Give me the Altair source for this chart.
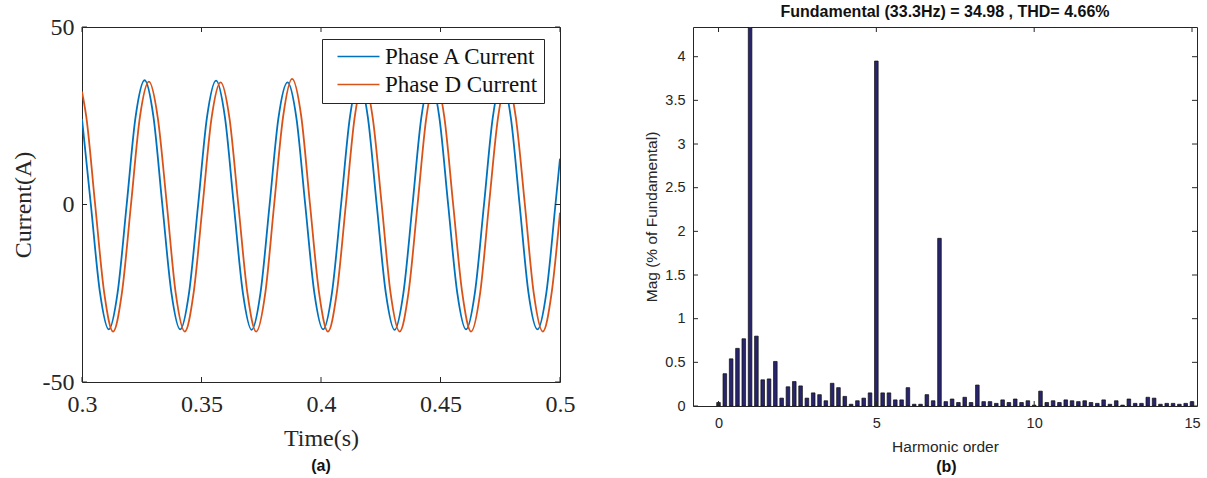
import altair as alt
import pandas as pd

# ---- phase currents (time in s, current in A), sampled every eighth of a cycle ----
t_phase_a = [0.3000, 0.3037, 0.3075, 0.3112, 0.3149, 0.3187, 0.3224, 0.3262, 0.3299, 0.3336,
             0.3374, 0.3411, 0.3448, 0.3486, 0.3523, 0.3561, 0.3598, 0.3635, 0.3673, 0.3710,
             0.3747, 0.3785, 0.3822, 0.3860, 0.3897, 0.3934, 0.3972, 0.4009, 0.4046, 0.4084,
             0.4121, 0.4159, 0.4196, 0.4233, 0.4271, 0.4308, 0.4345, 0.4383, 0.4420, 0.4457,
             0.4495, 0.4532, 0.4570, 0.4607, 0.4644, 0.4682, 0.4719, 0.4756, 0.4794, 0.4831,
             0.4868, 0.4906, 0.4943, 0.4981, 0.5000]
i_phase_a = [24.1, 0.0, -24.7, -35.2, -24.8, 0.0, 24.6, 35.0, 24.7, 0.0,
             -24.8, -35.2, -24.8, 0.0, 24.6, 34.9, 24.6, 0.0, -24.8, -35.3,
             -24.8, 0.0, 24.4, 34.4, 24.4, 0.0, -24.8, -35.2, -24.8, 0.0,
             24.6, 34.8, 24.6, 0.0, -24.8, -35.3, -24.8, 0.0, 24.6, 34.8,
             24.6, 0.0, -24.8, -35.2, -24.8, 0.0, 24.6, 34.8, 24.6, 0.0,
             -24.8, -35.2, -24.8, 0.0, 12.9]

t_phase_d = [0.3000, 0.3018, 0.3055, 0.3093, 0.3130, 0.3167, 0.3205, 0.3242, 0.3280, 0.3317,
             0.3355, 0.3392, 0.3430, 0.3467, 0.3505, 0.3542, 0.3580, 0.3617, 0.3654, 0.3692,
             0.3729, 0.3767, 0.3804, 0.3842, 0.3879, 0.3917, 0.3954, 0.3992, 0.4029, 0.4066,
             0.4104, 0.4141, 0.4179, 0.4216, 0.4254, 0.4291, 0.4329, 0.4366, 0.4404, 0.4441,
             0.4478, 0.4516, 0.4553, 0.4591, 0.4628, 0.4666, 0.4703, 0.4741, 0.4778, 0.4815,
             0.4853, 0.4890, 0.4928, 0.4965, 0.5000]
i_phase_d = [31.8, 24.7, 0.0, -24.9, -35.8, -24.9, 0.0, 24.5, 34.6, 24.5,
             0.0, -24.9, -35.8, -24.9, 0.0, 24.3, 34.4, 24.3, 0.0, -24.9,
             -35.8, -24.9, 0.0, 25.0, 35.4, 25.0, 0.0, -24.9, -35.8, -24.9,
             0.0, 24.6, 34.8, 24.6, 0.0, -24.9, -35.8, -24.9, 0.0, 24.6,
             34.8, 24.6, 0.0, -24.9, -35.8, -24.9, 0.0, 24.6, 34.8, 24.6,
             0.0, -24.9, -35.8, -24.9, -2.3]

series_names = ["Phase A Current", "Phase D Current"]
series_colors = ["#0072BD", "#D95319"]

# ---- harmonic spectrum: order (multiples of fundamental), magnitude in % of fundamental ----
harmonic_order = [0.0, 0.2, 0.4, 0.6, 0.8, 1.0, 1.2, 1.4, 1.6, 1.8,
                  2.0, 2.2, 2.4, 2.6, 2.8, 3.0, 3.2, 3.4, 3.6, 3.8,
                  4.0, 4.2, 4.4, 4.6, 4.8, 5.0, 5.2, 5.4, 5.6, 5.8,
                  6.0, 6.2, 6.4, 6.6, 6.8, 7.0, 7.2, 7.4, 7.6, 7.8,
                  8.0, 8.2, 8.4, 8.6, 8.8, 9.0, 9.2, 9.4, 9.6, 9.8,
                  10.0, 10.2, 10.4, 10.6, 10.8, 11.0, 11.2, 11.4, 11.6, 11.8,
                  12.0, 12.2, 12.4, 12.6, 12.8, 13.0, 13.2, 13.4, 13.6, 13.8,
                  14.0, 14.2, 14.4, 14.6, 14.8, 15.0]
magnitude_pct = [0.04, 0.37, 0.54, 0.66, 0.77, 100.0, 0.80, 0.30, 0.31, 0.51,
                 0.09, 0.22, 0.28, 0.23, 0.09, 0.15, 0.13, 0.06, 0.26, 0.21,
                 0.11, 0.02, 0.06, 0.09, 0.15, 3.95, 0.15, 0.15, 0.07, 0.07,
                 0.21, 0.02, 0.02, 0.13, 0.06, 1.92, 0.05, 0.08, 0.04, 0.10,
                 0.04, 0.24, 0.05, 0.05, 0.03, 0.07, 0.04, 0.08, 0.04, 0.06,
                 0.01, 0.17, 0.04, 0.06, 0.04, 0.07, 0.06, 0.05, 0.06, 0.04,
                 0.03, 0.07, 0.02, 0.06, 0.01, 0.08, 0.03, 0.03, 0.10, 0.09,
                 0.02, 0.03, 0.03, 0.02, 0.03, 0.05]

spectrum_title = "Fundamental (33.3Hz) = 34.98 , THD= 4.66%"
captions = ["(a)", "(b)"]

time_ticks = [0.3, 0.35, 0.4, 0.45, 0.5]
current_ticks = [-50, 0, 50]
order_ticks = [0, 5, 10, 15]
mag_ticks = [0, 0.5, 1, 1.5, 2, 2.5, 3, 3.5, 4]

SERIF = "Liberation Serif"
SANS = "Liberation Sans"
INK = "#262626"
TICK = 5

W1, H1 = 478, 355
W2, H2 = 504, 379


def inward_ticks(field_values, channel, scale, width, height):
    """Short rules pointing into the plot from both edges, at the given tick values."""
    src = alt.Chart(pd.DataFrame({"v": field_values}))
    if channel == "x":
        enc = alt.X("v:Q", scale=scale, axis=None)
        return (src.mark_rule(color=INK, strokeWidth=1).encode(
                    x=enc, y=alt.value(height), y2=alt.value(height - TICK))
                + src.mark_rule(color=INK, strokeWidth=1).encode(
                    x=enc, y=alt.value(0), y2=alt.value(TICK)))
    enc = alt.Y("v:Q", scale=scale, axis=None)
    return (src.mark_rule(color=INK, strokeWidth=1).encode(
                y=enc, x=alt.value(0), x2=alt.value(TICK))
            + src.mark_rule(color=INK, strokeWidth=1).encode(
                y=enc, x=alt.value(width), x2=alt.value(width - TICK)))


def caption(text, dx, offset):
    return alt.TitleParams(text, orient="bottom", anchor="middle", frame="bounds",
                           font=SANS, fontSize=16, fontWeight="bold", color="#111",
                           offset=offset, dx=dx)


# ---------------- left panel: phase currents ----------------
phase_df = pd.DataFrame({
    "t": t_phase_a + t_phase_d,
    "i": i_phase_a + i_phase_d,
    "phase": [series_names[0]] * len(t_phase_a) + [series_names[1]] * len(t_phase_d),
})

xs1 = alt.Scale(domain=[0.3, 0.5], nice=False, zero=False)
ys1 = alt.Scale(domain=[-50, 50], nice=False, zero=False)

cur_lines = alt.Chart(phase_df).mark_line(
    strokeWidth=1.8, interpolate="monotone", clip=True
).encode(
    x=alt.X("t:Q", scale=xs1, axis=alt.Axis(
        values=time_ticks, format="~g", title="Time(s)", ticks=False, tickSize=0,
        domain=False, grid=False, labelFlush=False, labelFont=SERIF, labelFontSize=24,
        labelColor=INK, labelPadding=10, titleFont=SERIF, titleFontSize=24,
        titleFontWeight="normal", titleColor=INK, titlePadding=10)),
    y=alt.Y("i:Q", scale=ys1, axis=alt.Axis(
        values=current_ticks, labelExpr="'' + datum.value", title="Current(A)",
        ticks=False, tickSize=0, domain=False, grid=False, labelFlush=False,
        labelFont=SERIF, labelFontSize=24, labelColor=INK, labelPadding=8,
        titleFont=SERIF, titleFontSize=24, titleFontWeight="normal",
        titleColor=INK, titlePadding=7)),
    color=alt.Color("phase:N", scale=alt.Scale(domain=series_names, range=series_colors),
                    legend=alt.Legend(title=None, orient="none", legendX=240, legendY=12,
                                      direction="vertical", fillColor="white",
                                      strokeColor=INK, padding=6, labelFont=SERIF,
                                      labelFontSize=23, labelColor="#111",
                                      symbolType="M-2,0L2,0", symbolSize=441,
                                      symbolStrokeWidth=1.5, symbolOffset=19,
                                      rowPadding=4, labelOffset=15, labelLimit=0)),
)

left = alt.layer(
    cur_lines,
    inward_ticks(time_ticks, "x", xs1, W1, H1),
    inward_ticks(current_ticks, "y", ys1, W1, H1),
).resolve_axis(x="independent", y="independent").properties(width=W1, height=H1)

# ---------------- right panel: harmonic spectrum ----------------
spec_df = pd.DataFrame({"order": harmonic_order, "mag": magnitude_pct})
xs2 = alt.Scale(domain=[-0.65, 15], nice=False, zero=False)
ys2 = alt.Scale(domain=[0, 4.34], nice=False, zero=True)

bars = alt.Chart(spec_df).mark_bar(
    size=3.6, fill="#28246E", stroke="#0d0d0d", strokeWidth=0.7, clip=True
).encode(
    x=alt.X("order:Q", scale=xs2, axis=alt.Axis(
        values=order_ticks, format="~g", title="Harmonic order", ticks=False, tickSize=0,
        domain=False, grid=False, labelFlush=False, labelFont=SANS, labelFontSize=14.5,
        labelColor=INK, labelPadding=10, titleFont=SANS, titleFontSize=15.5,
        titleFontWeight="normal", titleColor=INK, titlePadding=10)),
    y=alt.Y("mag:Q", scale=ys2, axis=alt.Axis(
        values=mag_ticks, format="~g", title="Mag (% of Fundamental)", ticks=False,
        tickSize=0, domain=False, grid=False, labelFlush=False, labelFont=SANS,
        labelFontSize=14.5, labelColor=INK, labelPadding=8, titleFont=SANS,
        titleFontSize=15.5, titleFontWeight="normal", titleColor=INK, titlePadding=5)),
)

right = alt.layer(
    bars,
    inward_ticks(order_ticks, "x", xs2, W2, H2),
    inward_ticks(mag_ticks, "y", ys2, W2, H2),
).resolve_axis(x="independent", y="independent").properties(
    width=W2, height=H2,
    title=alt.TitleParams(spectrum_title, color="#111", font=SANS, fontSize=16,
                          fontWeight="bold", offset=7, anchor="middle", frame="group"),
)

left_panel = alt.vconcat(left, title=caption(captions[0], 28, 7))
right_panel = alt.vconcat(right, title=caption(captions[1], 24, 3))

chart = alt.hconcat(left_panel, right_panel, spacing=68).configure_view(
    stroke=INK, strokeWidth=1
).properties(
    padding={"left": 10, "top": 3, "right": 2, "bottom": 2},
    background="white",
)

chart.save("out.html", embed_options={"renderer": "svg", "actions": False})
